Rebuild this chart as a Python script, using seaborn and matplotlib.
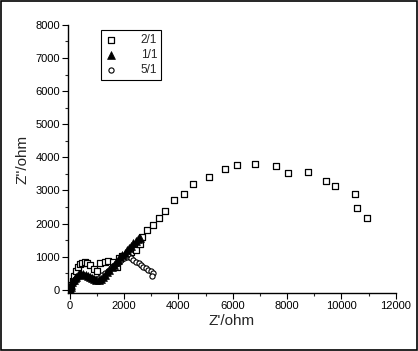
import numpy as np
import pandas as pd
import matplotlib
matplotlib.use("Agg")
import matplotlib.pyplot as plt
from matplotlib.patches import Rectangle
from matplotlib.ticker import MultipleLocator
import seaborn as sns

# ---- data (Z' / Z'' in ohm) ----
x_21 = [20, 60, 110, 170, 230, 300, 380, 460, 560, 650, 760, 900, 1000, 1120, 1300,
        1420, 1600, 1730, 1800, 1920, 2100, 2250, 2430, 2600, 2650, 2860, 3080, 3300,
        3520, 3840, 4220, 4550, 5140, 5720, 6170, 6830, 7590, 8030, 8780, 9440, 9760,
        10500, 10580, 10950]
y_21 = [40, 150, 280, 420, 560, 680, 780, 820, 850, 800, 740, 640, 560, 800, 840,
        860, 850, 700, 950, 1010, 1050, 1150, 1210, 1370, 1580, 1820, 1960, 2170,
        2380, 2710, 2890, 3190, 3400, 3650, 3780, 3800, 3740, 3530, 3560, 3280, 3130,
        2880, 2470, 2170]

x_11 = [10, 30, 60, 100, 140, 190, 240, 300, 360, 430, 500, 580, 660, 740, 820, 900,
        980, 1060, 1140, 1220, 1300, 1380, 1460, 1540, 1620, 1700, 1780, 1860, 1940,
        2020, 2100, 2180, 2260, 2340, 2420, 2500, 2580]
y_11 = [20, 80, 150, 220, 290, 350, 400, 440, 470, 480, 470, 450, 420, 390, 360, 330,
        300, 290, 320, 380, 450, 530, 600, 680, 760, 840, 910, 980, 1050, 1120, 1190,
        1260, 1330, 1400, 1460, 1520, 1570]

x_51 = [15, 40, 80, 130, 190, 260, 340, 420, 510, 600, 700, 800, 900, 1000, 1100,
        1200, 1300, 1400, 1500, 1600, 1700, 1800, 1900, 2000, 2100, 2160, 2250, 2340,
        2430, 2530, 2620, 2710, 2800, 2890, 2980, 3080, 3020]
y_51 = [30, 100, 180, 260, 330, 390, 430, 450, 450, 430, 390, 350, 330, 340, 380,
        440, 510, 580, 650, 720, 790, 850, 910, 960, 1000, 1030, 960, 900, 850, 800,
        750, 700, 650, 600, 560, 500, 410]

sns.set_style("ticks")
plt.rcParams['font.family'] = ['Liberation Sans', 'DejaVu Sans']

fig = plt.figure(figsize=(4.18, 3.51), dpi=100)
ax = fig.add_axes([0.163, 0.165, 0.784, 0.764])

sns.scatterplot(x=x_21, y=y_21, marker='s', s=18, facecolor='white',
                edgecolor='black', linewidth=0.9, label='2/1', ax=ax, zorder=2)
sns.scatterplot(x=x_11, y=y_11, marker='^', s=32, color='black',
                edgecolor='black', linewidth=0.5, label='1/1', ax=ax, zorder=4)
sns.scatterplot(x=x_51, y=y_51, marker='o', s=14, facecolor='white',
                edgecolor='black', linewidth=0.8, label='5/1', ax=ax, zorder=3)

ax.set_xlim(-60, 12000)
ax.set_ylim(-100, 8000)
ax.xaxis.set_major_locator(MultipleLocator(2000))
ax.xaxis.set_minor_locator(MultipleLocator(1000))
ax.yaxis.set_major_locator(MultipleLocator(1000))
ax.yaxis.set_minor_locator(MultipleLocator(500))
ax.tick_params(which='major', direction='out', length=4, width=0.8,
               labelsize=8, colors='black', pad=2)
ax.tick_params(which='minor', direction='out', length=2.5, width=0.8)
for s in ['top', 'right']:
    ax.spines[s].set_visible(False)
for s in ['left', 'bottom']:
    ax.spines[s].set_linewidth(1.0)
    ax.spines[s].set_color('black')

ax.set_xlabel("Z'/ohm", fontsize=11, labelpad=2)
ax.set_ylabel("Z''/ohm", fontsize=11, labelpad=4)

leg = ax.legend(loc='upper left', bbox_to_anchor=(101 / 418, 1 - 30 / 351),
                bbox_transform=fig.transFigure, borderaxespad=0, fontsize=8.5,
                frameon=True, fancybox=False, framealpha=1, edgecolor='black',
                handletextpad=2.0, labelspacing=0.25, borderpad=0.35,
                handlelength=1.0, markerscale=1.0)
leg.get_frame().set_linewidth(0.8)

fig.add_artist(Rectangle((0.002, 0.002), 0.996, 0.996, transform=fig.transFigure,
                         fill=False, edgecolor='black', linewidth=1.2))

fig.savefig('out.png', dpi=100)
